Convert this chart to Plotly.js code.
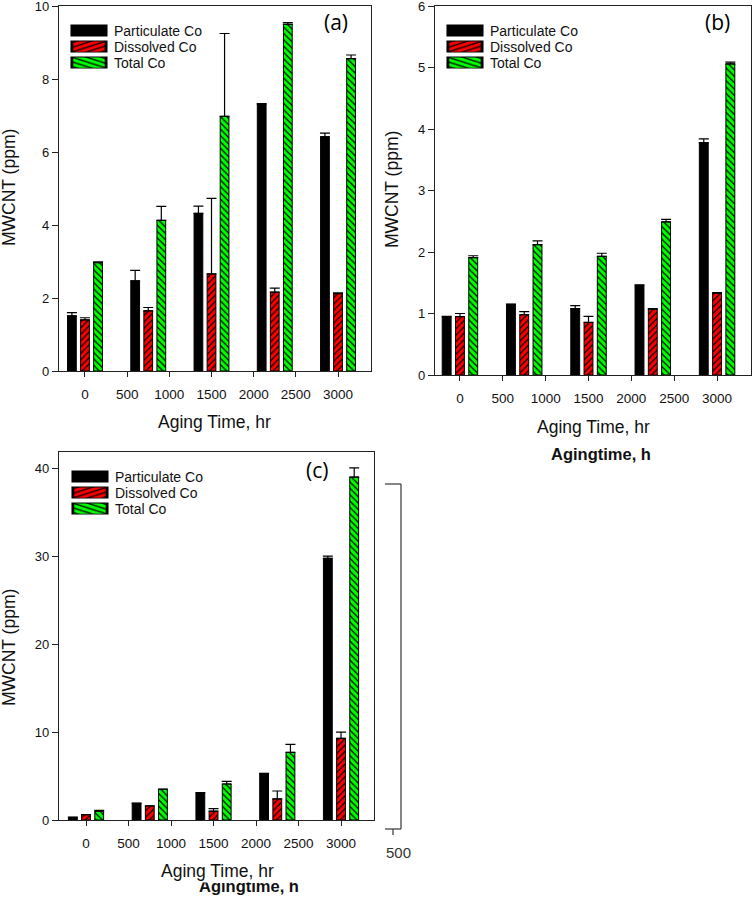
<!DOCTYPE html>
<html>
<head>
<meta charset="utf-8">
<script src="https://cdn.plot.ly/plotly-3.0.1.min.js"></script>
<style>html,body{margin:0;padding:0;background:#fff}#chart{width:752px;height:900px}</style>
</head>
<body>
<div id="chart"></div>
<script>
// ---------- data ----------
const groups = [0, 750, 1500, 2250, 3000];
const seriesNames = ['Particulate Co', 'Dissolved Co', 'Total Co'];
const xTickVals = [0, 500, 1000, 1500, 2000, 2500, 3000];
const xTickText = ['0', '500', '1000', '1500', '2000', '2500', '3000'];

const aParticulate = [1.51, 2.47, 4.32, 7.32, 6.42];
const aParticulateErr = [0.09, 0.29, 0.20, 0.01, 0.10];
const aDissolved = [1.40, 1.65, 2.66, 2.16, 2.12];
const aDissolvedErr = [0.06, 0.09, 2.07, 0.11, 0.02];
const aTotal = [2.97, 4.13, 6.98, 9.50, 8.56];
const aTotalErr = [0.02, 0.38, 2.27, 0.05, 0.10];

const bParticulate = [0.95, 1.15, 1.08, 1.46, 3.78];
const bParticulateErr = [0.005, 0.005, 0.05, 0.005, 0.06];
const bDissolved = [0.95, 0.98, 0.855, 1.07, 1.33];
const bDissolvedErr = [0.05, 0.05, 0.10, 0.01, 0.01];
const bTotal = [1.91, 2.12, 1.93, 2.49, 5.06];
const bTotalErr = [0.03, 0.06, 0.05, 0.04, 0.03];

const cParticulate = [0.3, 1.9, 3.1, 5.3, 29.8];
const cParticulateErr = [0.02, 0.02, 0.02, 0.02, 0.25];
const cDissolved = [0.6, 1.6, 1.0, 2.4, 9.3];
const cDissolvedErr = [0.02, 0.02, 0.3, 0.9, 0.7];
const cTotal = [1.0, 3.5, 4.1, 7.7, 39.05];
const cTotalErr = [0.1, 0.02, 0.3, 0.9, 1.05];

// ---------- styling ----------
const FONT = '"Liberation Sans", Arial, sans-serif';
const styles = [
  {color: '#000000', pattern: {shape: ''}},
  {color: '#ff0000', pattern: {shape: '/', fgcolor: '#000000', bgcolor: '#ff0000', size: 4.5, solidity: 0.28, fillmode: 'replace'}},
  {color: '#00ff00', pattern: {shape: '\\', fgcolor: '#000000', bgcolor: '#00ff00', size: 4.5, solidity: 0.28, fillmode: 'replace'}}
];

function makeTraces(vals, errs, xa, ya, legendId) {
  return vals.map((v, i) => ({
    type: 'bar',
    x: groups,
    y: v,
    name: seriesNames[i],
    xaxis: xa, yaxis: ya,
    legend: legendId,
    marker: {color: styles[i].color, pattern: styles[i].pattern, line: {color: '#000', width: 1}},
    error_y: {type: 'data', symmetric: false, array: errs[i], arrayminus: groups.map(() => 0),
              color: '#000', thickness: 1.2, width: 5}
  }));
}

const data = [].concat(
  makeTraces([aParticulate, aDissolved, aTotal], [aParticulateErr, aDissolvedErr, aTotalErr], 'x', 'y', 'legend'),
  makeTraces([bParticulate, bDissolved, bTotal], [bParticulateErr, bDissolvedErr, bTotalErr], 'x2', 'y2', 'legend2'),
  makeTraces([cParticulate, cDissolved, cTotal], [cParticulateErr, cDissolvedErr, cTotalErr], 'x3', 'y3', 'legend3')
);

const W = 752, H = 900;
const px = v => v / W;
const py = v => 1 - v / H;

function xAxis(domain, range, anchor) {
  return {domain, range, anchor, tickvals: xTickVals, ticktext: xTickText,
    ticks: 'outside', ticklen: 5, tickwidth: 1, tickcolor: '#222', ticklabelstandoff: 6,
    ticklabeloverflow: 'allow',
    showline: true, linecolor: '#222', linewidth: 1.2, mirror: true,
    showgrid: false, zeroline: false, automargin: false,
    tickfont: {family: FONT, size: 13.5, color: '#111'}};
}
function yAxis(domain, range, dtick, anchor) {
  return {domain, range, anchor, dtick, tick0: 0,
    ticks: 'outside', ticklen: 6, tickwidth: 1, tickcolor: '#222',
    ticklabeloverflow: 'allow',
    showline: true, linecolor: '#222', linewidth: 1.2, mirror: true,
    showgrid: false, zeroline: false, automargin: false,
    tickfont: {family: FONT, size: 13, color: '#111'}};
}
function legendAt(x, y) {
  return {x: px(x), y: py(y), xanchor: 'left', yanchor: 'top', bgcolor: 'rgba(0,0,0,0)',
    borderwidth: 0, itemwidth: 40, tracegroupgap: 0, traceorder: 'normal',
    font: {family: FONT, size: 14, color: '#111'}, itemclick: false};
}

function txt(x, y, text, size, opts) {
  return Object.assign({xref: 'paper', yref: 'paper', x: px(x), y: py(y), text,
    showarrow: false, xanchor: 'center', yanchor: 'middle',
    font: {family: FONT, size, color: '#111'}}, opts || {});
}

const labelFont = {family: '"Open Sans", sans-serif', size: 21, color: '#000'};
const annotations = [
  txt(9, 188, 'MWCNT (ppm)', 17.5, {textangle: -90}),
  txt(392, 190, 'MWCNT (ppm)', 17.5, {textangle: -90}),
  txt(9, 648, 'MWCNT (ppm)', 17.5, {textangle: -90}),
  txt(214, 422, 'Aging Time, hr', 17.5),
  txt(593, 427, 'Aging Time, hr', 17.5),
  txt(601, 454, '<b>Agingtime, h</b>', 16.5),
  txt(249, 886, '<b>Agingtime, h</b>', 16.5),
  // white cover hiding the upper part of the clipped label
  {xref: 'paper', yref: 'paper', x: px(249), y: py(876), xanchor: 'center', yanchor: 'middle',
   text: ' ', showarrow: false, width: 130, height: 12, bgcolor: '#ffffff', borderpad: 0},
  txt(217, 871, 'Aging Time, hr', 17.5),
  txt(336, 22, '(a)', 21, {font: labelFont}),
  txt(717, 22, '(b)', 21, {font: labelFont}),
  txt(317, 470, '(c)', 21, {font: labelFont}),
  txt(398, 852, '500', 15, {font: {family: FONT, size: 15, color: '#333'}})
];

const shapes = [
  {type: 'line', xref: 'paper', yref: 'paper', x0: px(401), x1: px(401), y0: py(484), y1: py(829), line: {color: '#444', width: 1.3}},
  {type: 'line', xref: 'paper', yref: 'paper', x0: px(385), x1: px(401), y0: py(484), y1: py(484), line: {color: '#444', width: 1.3}},
  {type: 'line', xref: 'paper', yref: 'paper', x0: px(385), x1: px(401), y0: py(829), y1: py(829), line: {color: '#444', width: 1.3}},
  {type: 'line', xref: 'paper', yref: 'paper', x0: px(393), x1: px(393), y0: py(829), y1: py(835), line: {color: '#444', width: 1.3}}
];

const layout = {
  width: W, height: H,
  margin: {l: 0, r: 0, t: 0, b: 0},
  paper_bgcolor: '#fff', plot_bgcolor: '#fff',
  barmode: 'group', bargap: 0.38, bargroupgap: 0.33,
  showlegend: true,
  xaxis: xAxis([px(59), px(371)], [-308, 3391], 'y'),
  yaxis: yAxis([py(371), py(6)], [0, 10.003], 2, 'x'),
  xaxis2: xAxis([px(435), px(751)], [-291, 3396], 'y2'),
  yaxis2: yAxis([py(375), py(6)], [0, 6.002], 1, 'x2'),
  xaxis3: xAxis([px(59), px(374)], [-318, 3388], 'y3'),
  yaxis3: yAxis([py(820), py(452)], [0, 41.9], 10, 'x3'),
  legend: legendAt(64, 15),
  legend2: legendAt(440, 15),
  legend3: legendAt(65, 461),
  annotations, shapes,
  font: {family: FONT}
};

Plotly.newPlot('chart', data, layout, {staticPlot: true, displayModeBar: false}).then(gd => {
  // widen legend swatches to look like the wide rectangles of the original
  gd.querySelectorAll('.legendpoints path').forEach(p => {
    const t = p.getAttribute('transform') || '';
    p.setAttribute('transform', t + ' scale(2.85,0.92)');
  });
  // tighten legend row spacing (all three legends)
  ['legend', 'legend2', 'legend3'].forEach(cls => {
    gd.querySelectorAll('g.' + cls).forEach(lg => {
      const items = lg.querySelectorAll('g.traces');
      let base = null;
      items.forEach((it, i) => {
        const m = /translate\(\s*([-\d.]+)[ ,]+([-\d.]+)\s*\)/.exec(it.getAttribute('transform') || '');
        if (!m) return;
        const x0 = parseFloat(m[1]), y0 = parseFloat(m[2]);
        if (base === null) base = y0;
        it.setAttribute('transform', 'translate(' + x0 + ',' + (base + i * 16) + ')');
      });
    });
  });
});
</script>
</body>
</html>
